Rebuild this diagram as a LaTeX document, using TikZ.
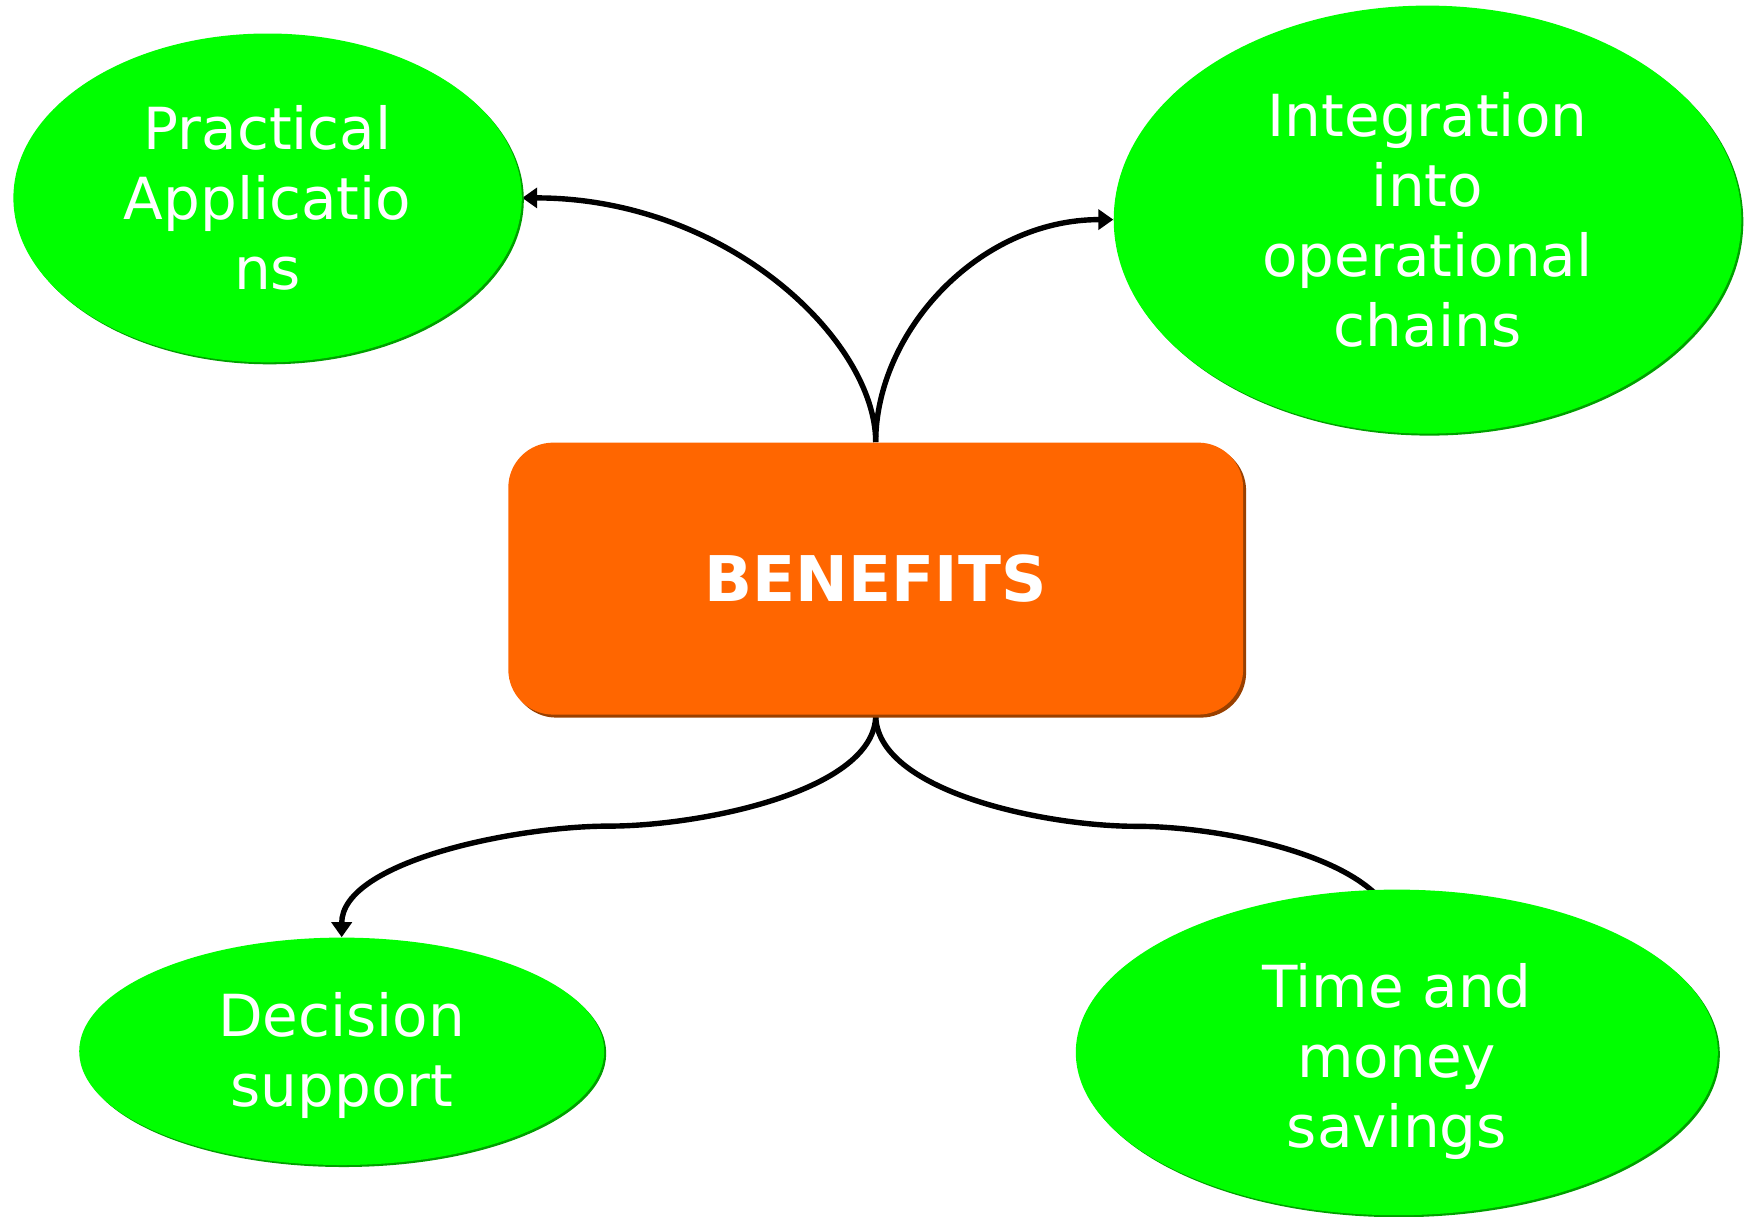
\documentclass[tikz,border=0pt]{standalone}
\usepackage{fontspec}
\setmainfont{DejaVu Sans}
\usetikzlibrary{shapes.geometric,arrows.meta,shadows,backgrounds,calc}
\definecolor{leaf}{HTML}{00FF00}
\definecolor{leafdark}{HTML}{00A000}
\definecolor{orng}{HTML}{FF6600}
\definecolor{orngdark}{HTML}{994000}
\tikzset{
  bubble/.style={ellipse, fill=leaf, draw=none, inner sep=0pt, text=white, align=center,
    font=\fontsize{29pt}{35pt}\selectfont,
    copy shadow={shadow xshift=1pt, shadow yshift=-1pt, fill=leafdark, draw=none}},
  hub/.style={rectangle, rounded corners=22.5pt, fill=orng, draw=none, inner sep=0pt, text=white,
    font=\fontsize{31.5pt}{38pt}\selectfont\bfseries,
    copy shadow={shadow xshift=1.5pt, shadow yshift=-1.5pt, fill=orngdark, draw=none}},
  link/.style={line width=2.7pt, draw=black},
  tip/.style={-{Triangle[length=7.5pt,width=10pt]}}
}
\begin{document}
\begin{tikzpicture}[x=0.5pt,y=-0.5pt]
\useasboundingbox (0,0) rectangle (1748,1216);
\node[hub, minimum width=367.4pt, minimum height=136pt] (r) at (875.7,578.6) {BENEFITS};
\node[bubble, minimum width=254.2pt, minimum height=164.4pt] (e1) at (267.6,197.9) {Practical\\Applicatio\\ns};
\node[bubble, minimum width=313.8pt, minimum height=214pt] (e2) at (1427.5,219.6) {Integration\\into\\operational\\chains};
\node[bubble, minimum width=262.5pt, minimum height=113.7pt] (e3) at (341.7,1051.3) {\rule{0pt}{26.5pt}Decision\\support};
\node[bubble, minimum width=321pt, minimum height=162.8pt] (e4) at (1396.8,1052.4) {\rule{0pt}{31pt}Time and\\money\\savings};
\coordinate (m1) at ($(r.south)!0.5!(e3.north)$);
\coordinate (t4) at (1396.8,937.6);
\coordinate (m2) at ($(r.south)!0.5!(t4)$);
\begin{pgfonlayer}{background}
\draw[link,tip] (r.north) .. controls +(0,-101.5) and +(205,0) .. (e1.east);
\draw[link,tip] (r.north) .. controls +(0,-110) and +(-135,0) .. (e2.west);
\draw[link,tip] (r.south) .. controls +(0,75.8) and +(92.5,0) .. (m1)
  .. controls +(-92.5,0) and +(0,-75.8) .. (e3.north);
\draw[link] (r.south) .. controls +(0,75.8) and +(-92.5,0) .. (m2)
  .. controls +(92.5,0) and +(0,-75.8) .. (t4);
\end{pgfonlayer}
\end{tikzpicture}
\end{document}
